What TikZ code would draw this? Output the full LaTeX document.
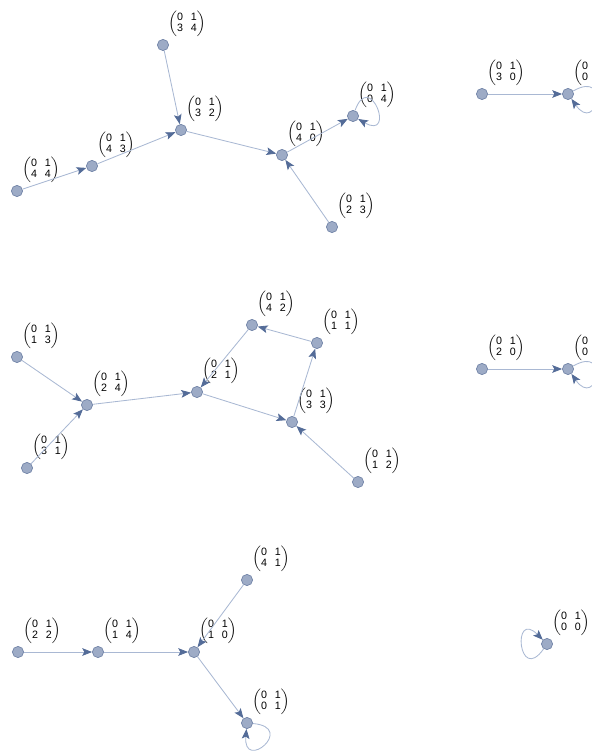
\documentclass[tikz,border=0pt]{standalone}
\usepackage{amsmath}
\usepackage{fontspec}
\usepackage{xcolor}
\usepackage{tikz}
\usetikzlibrary{arrows.meta}
\newfontfamily\matfont{Liberation Sans}
\definecolor{vfill}{HTML}{9DABC6}
\definecolor{vdraw}{HTML}{7385A8}
\definecolor{elink}{HTML}{A9B8D3}
\definecolor{etip}{HTML}{546C98}
\newcommand{\mlab}[2]{{\matfont\fontsize{7.6}{8.6}\selectfont\renewcommand{\arraystretch}{0.92}%
  $\left(\begin{tabular}{@{}c@{\hspace{5.5pt}}c@{}}0&1\\#1&#2\end{tabular}\right)$}}

\begin{document}
\begin{tikzpicture}[
    x=0.025cm, y=-0.025cm,
    vert/.style={circle, draw=vdraw, fill=vfill, line width=0.5pt,
                 minimum size=0.28cm, inner sep=0pt},
    lbl/.style={inner sep=0pt, label distance=0.9mm},
    flow/.style={draw=elink, line width=0.6pt,
                 -{Stealth[length=7pt, width=5.5pt, inset=1.5pt, color=etip]}},
    loopy/.style={flow, min distance=1.1cm}
]
\useasboundingbox (0,0) rectangle (591,753);

% Top left tree
\node[vert, label={[lbl]60:\mlab{4}{4}}] (m44) at (17,191) {};
\node[vert, label={[lbl]60:\mlab{4}{3}}] (m43) at (92,166) {};
\node[vert, label={[lbl]60:\mlab{3}{4}}] (m34) at (163,45) {};
\node[vert, label={[lbl]60:\mlab{3}{2}}] (m32) at (181,130) {};
\node[vert, label={[lbl]60:\mlab{4}{0}}] (m40) at (282,155) {};
\node[vert, label={[lbl]60:\mlab{0}{4}}] (m04) at (353,116) {};
\node[vert, label={[lbl]60:\mlab{2}{3}}] (m23) at (332,227) {};

\draw[flow] (m44) -- (m43);
\draw[flow] (m43) -- (m32);
\draw[flow] (m34) -- (m32);
\draw[flow] (m32) -- (m40);
\draw[flow] (m23) -- (m40);
\draw[flow] (m40) -- (m04);
\draw[loopy] (m04) to[out=70, in=-30] (m04);

% Top right pair
\node[vert, label={[lbl]60:\mlab{3}{0}}] (m30) at (482,94) {};
\node[vert, label={[lbl]60:\mlab{0}{3}}] (m03) at (568,94) {};

\draw[flow] (m30) -- (m03);
\draw[loopy] (m03) to[out=30, in=-55] (m03);

% Middle left, with cycle
\node[vert, label={[lbl]60:\mlab{1}{3}}] (m13) at (17,357) {};
\node[vert, label={[lbl]60:\mlab{2}{4}}] (m24) at (87,405) {};
\node[vert, label={[lbl]60:\mlab{3}{1}}] (m31) at (27,468) {};
\node[vert, label={[lbl]60:\mlab{2}{1}}] (m21) at (197,392) {};
\node[vert, label={[lbl]60:\mlab{4}{2}}] (m42) at (252,325) {};
\node[vert, label={[lbl]60:\mlab{1}{1}}] (m11) at (317,343) {};
\node[vert, label={[lbl]60:\mlab{3}{3}}] (m33) at (292,422) {};
\node[vert, label={[lbl]60:\mlab{1}{2}}] (m12) at (358,482) {};

\draw[flow] (m13) -- (m24);
\draw[flow] (m31) -- (m24);
\draw[flow] (m24) -- (m21);
\draw[flow] (m21) -- (m33);
\draw[flow] (m12) -- (m33);
\draw[flow] (m33) -- (m11);
\draw[flow] (m11) -- (m42);
\draw[flow] (m42) -- (m21);

% Middle right pair
\node[vert, label={[lbl]60:\mlab{2}{0}}] (m20) at (482,369) {};
\node[vert, label={[lbl]60:\mlab{0}{2}}] (m02) at (568,369) {};

\draw[flow] (m20) -- (m02);
\draw[loopy] (m02) to[out=30, in=-55] (m02);

% Bottom left chain
\node[vert, label={[lbl]60:\mlab{2}{2}}] (m22) at (18,652) {};
\node[vert, label={[lbl]60:\mlab{1}{4}}] (m14) at (98,652) {};
\node[vert, label={[lbl]60:\mlab{1}{0}}] (m10) at (194,652) {};
\node[vert, label={[lbl]60:\mlab{4}{1}}] (m41) at (247,580) {};
\node[vert, label={[lbl]60:\mlab{0}{1}}] (m01) at (247,723) {};

\draw[flow] (m22) -- (m14);
\draw[flow] (m14) -- (m10);
\draw[flow] (m41) -- (m10);
\draw[flow] (m10) -- (m01);
\draw[loopy] (m01) to[out=-5, in=-95] (m01);

% Bottom right fixed point
\node[vert, label={[lbl]60:\mlab{0}{0}}] (m00) at (547,644) {};
\draw[loopy] (m00) to[out=-125, in=135] (m00);

\end{tikzpicture}
\end{document}
